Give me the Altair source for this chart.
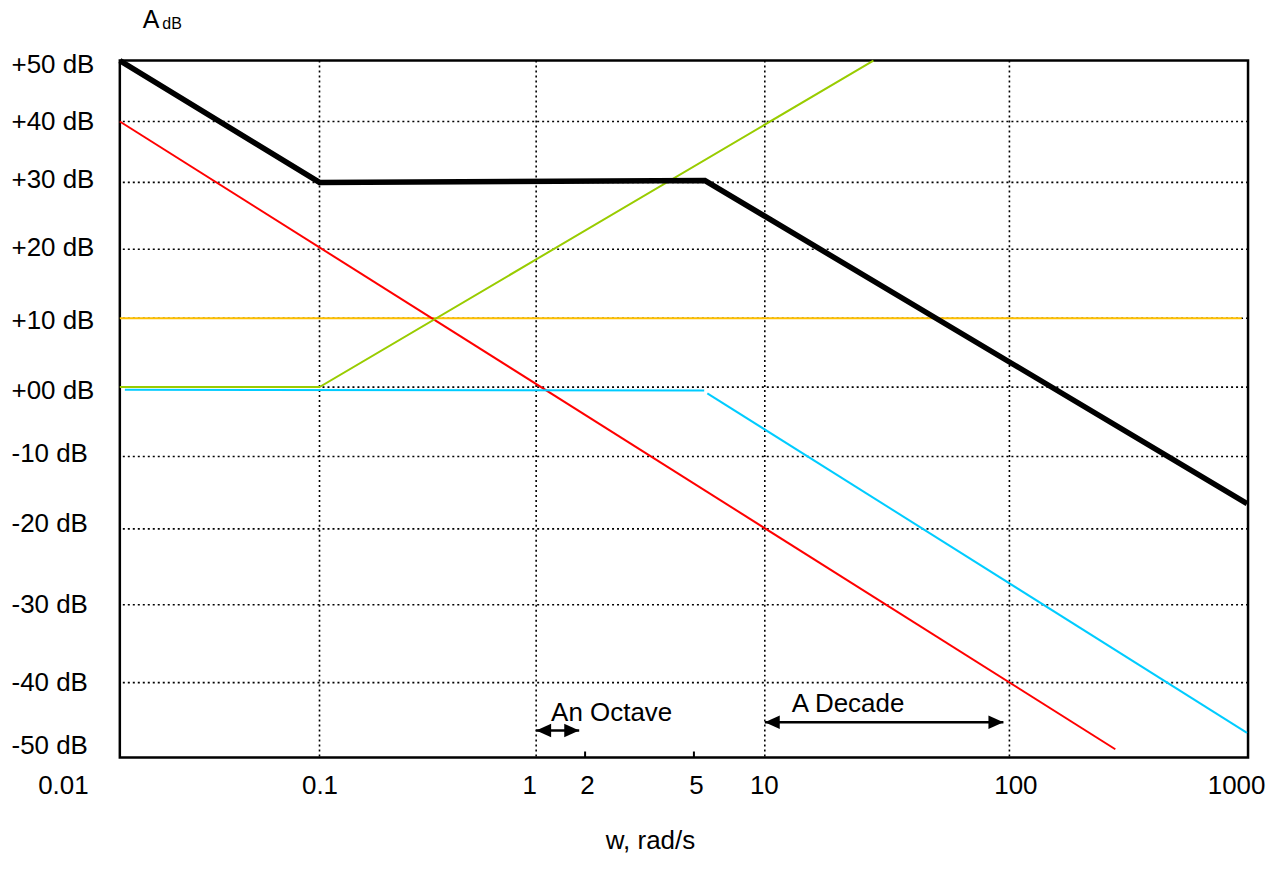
import altair as alt
import pandas as pd

# ---- axis tick values / labels ----
x_ticks = [0.01, 0.1, 1, 2, 5, 10, 100, 1000]
x_tick_labels = ["0.01", "0.1", "1", "2", "5", "10", "100", "1000"]
x_grid = [0.1, 1, 10, 100]
x_minor = [2, 5]
y_ticks = [50, 40, 30, 20, 10, 0, -10, -20, -30, -40, -50]
y_tick_labels = ["+50 dB", "+40 dB", "+30 dB", "+20 dB", "+10 dB", "+00 dB",
                 "-10 dB", "-20 dB", "-30 dB", "-40 dB", "-50 dB"]
y_grid = [40, 30, 20, 10, 0, -10, -20, -30, -40]

# ---- series (w in rad/s, magnitude in dB) ----
black_w = [0.01, 0.1, 5.57, 1000]
black_db = [50, 30, 30.3, -16.5]
red_w = [0.01, 279]
red_db = [40, -48.9]
green_w = [0.01, 0.1, 27.8]
green_db = [0.0, 0.0, 50]
orange_w = [0.01, 950]
orange_db = [10, 10]
cyan1_w = [0.0106, 5.53]
cyan1_db = [-0.4, -0.5]
cyan2_w = [5.7, 1000]
cyan2_db = [-0.9, -46.7]

# ---- annotations ----
octave_w = [1, 1.84]
octave_db = -46.4
decade_w = [10, 94.5]
decade_db = -45.3
note_text = ["An Octave", "A Decade"]
note_w = [1.236, 12.9]
note_db = [-44.0, -42.8]
heading_main = "A"
heading_sub = "dB"

FONT = "Liberation Sans"

# piecewise scales matching the drawing's grid spacing
xscale = alt.Scale(type="log", domain=x_ticks,
                   range=[0, 200, 417, 466, 575, 646, 891, 1129], nice=False)
yscale = alt.Scale(type="linear", domain=y_ticks[::-1],
                   range=[698, 623, 545, 469, 396.5, 327, 258, 189, 122, 61, 0],
                   nice=False, zero=False)


def js_list(v):
    return "[" + ",".join(repr(s) if isinstance(s, str) else str(s) for s in v) + "]"


x_label_expr = f"{js_list(x_tick_labels)}[indexof({js_list(x_ticks)}, datum.value)]"
y_label_expr = f"{js_list(y_tick_labels)}[indexof({js_list(y_ticks)}, datum.value)]"

x_off = {0.01: -57, 1: -7, 2: 2, 5: 2, 10: -1, 100: 6, 1000: -11}
y_off = {50: 4, 30: -3, 20: -2, 10: 2, 0: 3, -10: -3, -20: -5, -50: -12}


def cond(d):
    return {"condition": [{"test": f"datum.value == {k}", "value": v} for k, v in d.items()],
            "value": 0}


x_axis = alt.Axis(values=x_ticks, labelExpr=x_label_expr, grid=False, ticks=False, tickSize=0,
                  domain=False, labelFont=FONT, labelFontSize=26, labelColor="black",
                  labelPadding=15, labelOffset=cond(x_off), labelFlush=False,
                  labelOverlap=False, title="w, rad/s", titleFont=FONT, titleFontSize=26,
                  titleFontWeight="normal", titleColor="black", titleX=531, titleY=91,
                  titleBaseline="alphabetic")
# the y axis title carries the "dB" subscript of the A_dB heading
y_axis = alt.Axis(values=y_ticks, labelExpr=y_label_expr, grid=False, ticks=False, tickSize=0,
                  domain=False, labelFont=FONT, labelFontSize=26, labelColor="black",
                  labelAlign="left", labelPadding=109, labelOffset=cond(y_off),
                  labelFlush=False, labelOverlap=False,
                  title=heading_sub, titleFont=FONT, titleFontSize=16, titleFontWeight="normal",
                  titleColor="black", titleAngle=0, titleAlign="left",
                  titleBaseline="alphabetic", titleX=42, titleY=-32)


def df(w, db):
    return pd.DataFrame({"w": w, "db": db})


grid_dash = [2, 3]
vgrid = alt.Chart(pd.DataFrame({"w": x_grid})).mark_rule(
    color="black", strokeWidth=1.6, strokeDash=grid_dash).encode(
    x=alt.X("w:Q", scale=xscale, axis=x_axis))
hgrid = alt.Chart(pd.DataFrame({"db": y_grid})).mark_rule(
    color="black", strokeWidth=1.6, strokeDash=grid_dash).encode(
    y=alt.Y("db:Q", scale=yscale, axis=y_axis))


def line(w, db, color, width):
    return alt.Chart(df(w, db)).mark_line(color=color, strokeWidth=width).encode(
        x=alt.X("w:Q", scale=xscale), y=alt.Y("db:Q", scale=yscale), order="w:Q")


orange = line(orange_w, orange_db, "#FFC000", 2)
red = line(red_w, red_db, "#FF0000", 2)
green = line(green_w, green_db, "#99CC00", 2)
cyan1 = line(cyan1_w, cyan1_db, "#00CCFF", 2)
cyan2 = line(cyan2_w, cyan2_db, "#00CCFF", 2)
black = line(black_w, black_db, "black", 5.5)

minor = alt.Chart(pd.DataFrame({"w": x_minor, "db": [-50] * len(x_minor),
                                "db2": [-49.2] * len(x_minor)})).mark_rule(
    color="black", strokeWidth=2).encode(
    x=alt.X("w:Q", scale=xscale), y=alt.Y("db:Q", scale=yscale), y2="db2:Q")

arrow_df = pd.DataFrame({"w": [octave_w[0], decade_w[0]], "w2": [octave_w[1], decade_w[1]],
                         "db": [octave_db, decade_db]})
arrow_shaft = alt.Chart(arrow_df).mark_rule(color="black", strokeWidth=2.5).encode(
    x=alt.X("w:Q", scale=xscale), x2="w2:Q", y=alt.Y("db:Q", scale=yscale))
left_heads = alt.Chart(pd.DataFrame({"w": [octave_w[0], decade_w[0]],
                                     "db": [octave_db, decade_db]})).mark_point(
    shape="M0,0L2,-0.9L2,0.9Z", filled=True, color="black", opacity=1, size=225).encode(
    x=alt.X("w:Q", scale=xscale), y=alt.Y("db:Q", scale=yscale))
right_heads = alt.Chart(pd.DataFrame({"w": [octave_w[1], decade_w[1]],
                                      "db": [octave_db, decade_db]})).mark_point(
    shape="M0,0L-2,-0.9L-2,0.9Z", filled=True, color="black", opacity=1, size=225).encode(
    x=alt.X("w:Q", scale=xscale), y=alt.Y("db:Q", scale=yscale))

notes = alt.Chart(pd.DataFrame({"w": note_w, "db": note_db, "label": note_text})).mark_text(
    font=FONT, fontSize=26, align="left", baseline="middle", color="black").encode(
    x=alt.X("w:Q", scale=xscale), y=alt.Y("db:Q", scale=yscale), text="label:N")

heading = alt.Chart(pd.DataFrame({"t": [heading_main]})).mark_text(
    font=FONT, fontSize=25, align="left", baseline="alphabetic", color="black").encode(
    x=alt.value(23), y=alt.value(-33), text="t:N")

chart = alt.layer(
    vgrid, hgrid, orange, red, green, cyan1, cyan2, black, minor,
    arrow_shaft, left_heads, right_heads, notes, heading
).properties(
    width=1130, height=698,
    autosize=alt.AutoSizeParams(type="none"),
    padding={"left": 112, "top": 52, "right": 25, "bottom": 110},
    background="white",
).configure_view(stroke="black", strokeWidth=2.5)

chart.save("out.html", embed_options={"renderer": "svg", "actions": False})
